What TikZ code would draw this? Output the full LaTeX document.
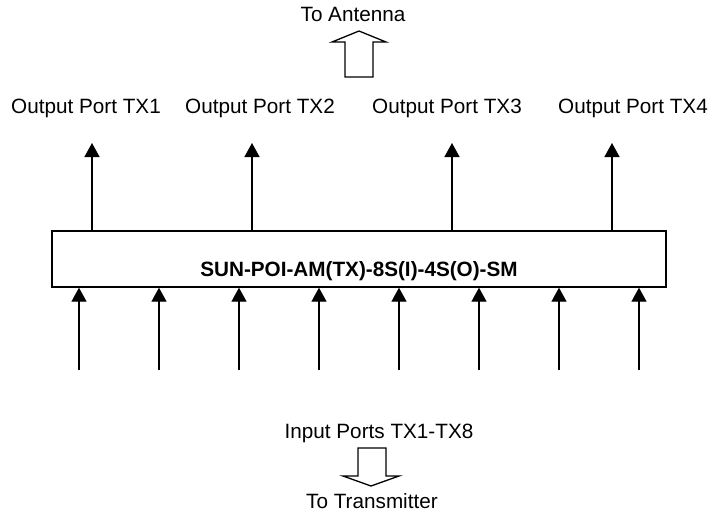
\documentclass[tikz,border=0pt]{standalone}
\usepackage{fontspec}
\setmainfont{Liberation Sans}
\usetikzlibrary{arrows.meta, positioning}
\tikzstyle{block} = [rectangle, draw=black, line width=1.4pt, minimum width=614pt, minimum height=56pt, inner sep=0pt]
\tikzstyle{port} = [anchor=base, inner sep=0pt, font=\fontsize{20.7}{24}\selectfont]
\tikzstyle{arrow} = [line width=1.4pt, -{Triangle[length=14pt, width=15pt]}]
\tikzstyle{bigarrow} = [draw=black, line width=1.3pt, fill=white, line join=miter]
\begin{document}
\begin{tikzpicture}[x=1pt, y=-1pt]
	\useasboundingbox (0,0) rectangle (710,517);

	\node (box) [block] at (359,259) {};
	\node (name) [port, font=\bfseries\fontsize{20.7}{24}\selectfont] at (359,276) {SUN-POI-AM(TX)-8S(I)-4S(O)-SM};

	\node (antenna) [port] at (353,21) {To Antenna};
	\draw [bigarrow] (345,77) -- (345,42) -- (332,42) -- (359,31) -- (386,42) -- (373,42) -- (373,77) -- cycle;

	\foreach \i/\x/\lx in {1/92/86, 2/252/260, 3/452/447, 4/612/633} {
		\node (out\i) [port] at (\lx,113) {Output Port TX\i};
		\coordinate (tip\i) at (\x,143);
		\draw [arrow] (box.north -| tip\i) -- (tip\i);
	}

	\foreach \i in {1,...,8} {
		\coordinate (in\i) at ({79+80*(\i-1)},370);
		\draw [arrow] (in\i) -- (in\i |- box.south);
	}

	\node (inputs) [port] at (379,438) {Input Ports TX1-TX8};
	\draw [bigarrow] (358,448) -- (358,476) -- (343,476) -- (371,486) -- (399,476) -- (386,476) -- (386,448) -- cycle;
	\node (transmitter) [port] at (372,508) {To Transmitter};
\end{tikzpicture}
\end{document}
